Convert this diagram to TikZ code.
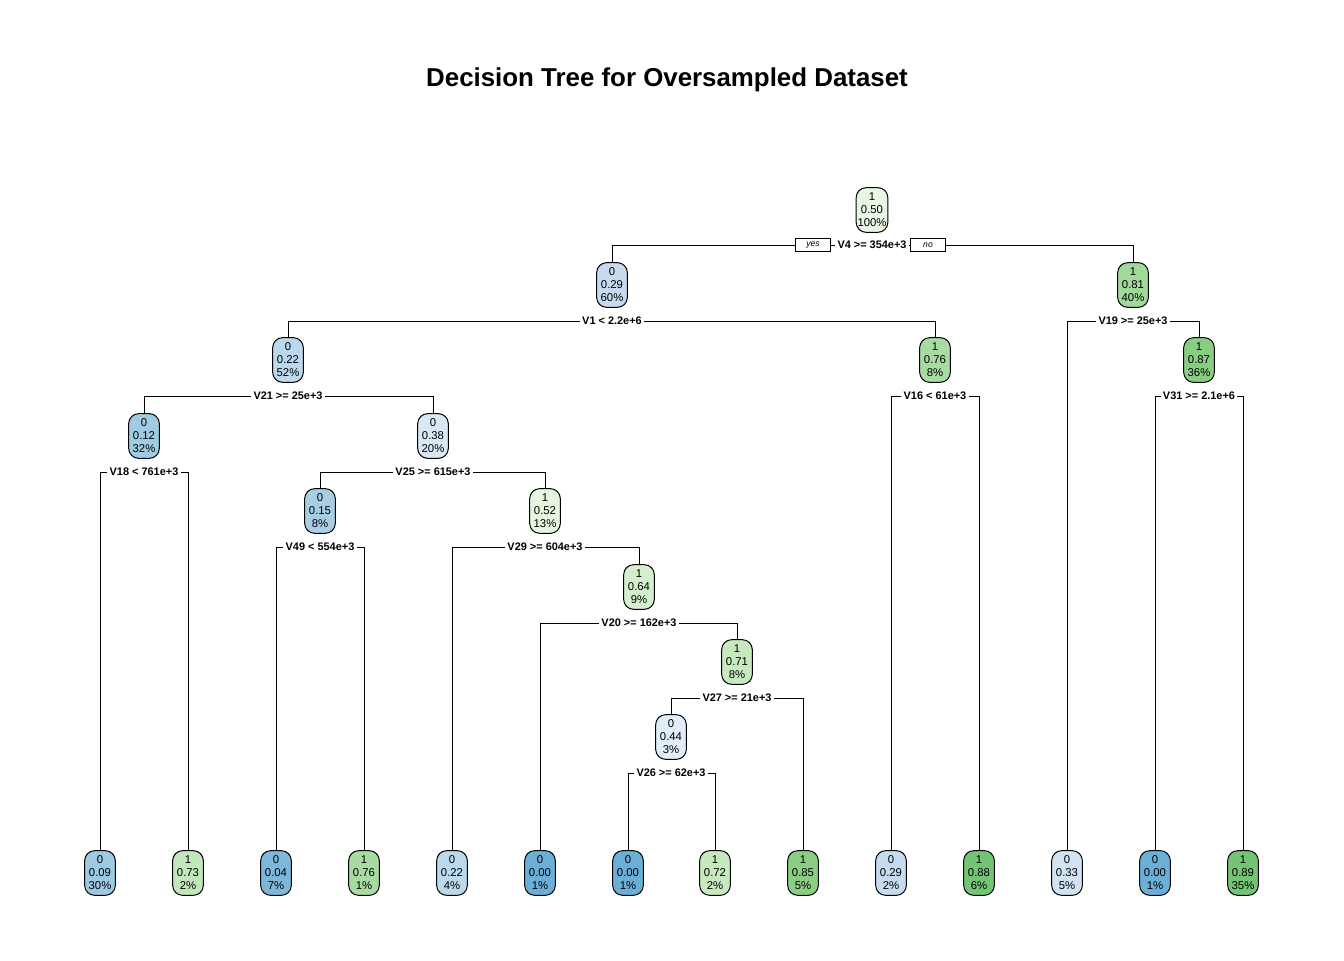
\documentclass[tikz,border=0pt]{standalone}
\usepackage{fontspec}
\setmainfont{Liberation Sans}
\begin{document}
\begin{tikzpicture}[x=0.75pt,y=-0.75pt,
  tn/.style={draw=black, line width=0.75pt, rounded corners=7.5pt, minimum width=23pt, minimum height=33.5pt, inner sep=1pt, align=center, font=\fontsize{8.5}{9.75}\selectfont},
  sl/.style={inner sep=1.5pt, font=\bfseries\fontsize{8.2}{9}\selectfont},
  yn/.style={draw=black, line width=0.6pt, minimum width=26pt, minimum height=9.8pt, inner sep=0.5pt, font=\itshape\fontsize{6.5}{7}\selectfont},
  ed/.style={line width=0.75pt, black}]
\useasboundingbox (0,0) rectangle (1344,960);
\definecolor{c000}{HTML}{6BAED6}
\definecolor{c004}{HTML}{7DB8DB}
\definecolor{c009}{HTML}{9ECAE1}
\definecolor{c012}{HTML}{A0CBE2}
\definecolor{c015}{HTML}{A8CEE4}
\definecolor{c022}{HTML}{BBD8EC}
\definecolor{c029}{HTML}{C6DBEF}
\definecolor{c033}{HTML}{D2E3F3}
\definecolor{c038}{HTML}{DAE8F5}
\definecolor{c044}{HTML}{E1EDF8}
\definecolor{c050}{HTML}{E8F6E3}
\definecolor{c052}{HTML}{E5F5E0}
\definecolor{c064}{HTML}{D3EFCC}
\definecolor{c071}{HTML}{C7E9C0}
\definecolor{c073}{HTML}{C3E7BC}
\definecolor{c076}{HTML}{A8DBA2}
\definecolor{c081}{HTML}{A1D99B}
\definecolor{c085}{HTML}{8ACE83}
\definecolor{c087}{HTML}{88CD82}
\definecolor{c088}{HTML}{74C476}

\node[font=\bfseries\fontsize{19.4}{23}\selectfont] (title) at (667,80) {Decision Tree for Oversampled Dataset};

% internal nodes
\node[tn, fill=c050] (n1) at (872,210) {1\\0.50\\100\%};
\node[tn, fill=c029] (n2) at (612,285) {0\\0.29\\60\%};
\node[tn, fill=c081] (n3) at (1133,285) {1\\0.81\\40\%};
\node[tn, fill=c022] (n4) at (288,360) {0\\0.22\\52\%};
\node[tn, fill=c076] (n5) at (935,360) {1\\0.76\\8\%};
\node[tn, fill=c087] (n7) at (1199,360) {1\\0.87\\36\%};
\node[tn, fill=c012] (n8) at (144,436) {0\\0.12\\32\%};
\node[tn, fill=c038] (n9) at (433,436) {0\\0.38\\20\%};
\node[tn, fill=c015] (n18) at (320,511) {0\\0.15\\8\%};
\node[tn, fill=c052] (n19) at (545,511) {1\\0.52\\13\%};
\node[tn, fill=c064] (n39) at (639,587) {1\\0.64\\9\%};
\node[tn, fill=c071] (n79) at (737,662) {1\\0.71\\8\%};
\node[tn, fill=c044] (n158) at (671,737) {0\\0.44\\3\%};

% leaves
\node[tn, fill=c009] (l1) at (100,873) {0\\0.09\\30\%};
\node[tn, fill=c073] (l2) at (188,873) {1\\0.73\\2\%};
\node[tn, fill=c004] (l3) at (276,873) {0\\0.04\\7\%};
\node[tn, fill=c076] (l4) at (364,873) {1\\0.76\\1\%};
\node[tn, fill=c022] (l5) at (452,873) {0\\0.22\\4\%};
\node[tn, fill=c000] (l6) at (540,873) {0\\0.00\\1\%};
\node[tn, fill=c000] (l7) at (628,873) {0\\0.00\\1\%};
\node[tn, fill=c071] (l8) at (715,873) {1\\0.72\\2\%};
\node[tn, fill=c085] (l9) at (803,873) {1\\0.85\\5\%};
\node[tn, fill=c029] (l10) at (891,873) {0\\0.29\\2\%};
\node[tn, fill=c088] (l11) at (979,873) {1\\0.88\\6\%};
\node[tn, fill=c033] (l12) at (1067,873) {0\\0.33\\5\%};
\node[tn, fill=c000] (l13) at (1155,873) {0\\0.00\\1\%};
\node[tn, fill=c088] (l14) at (1243,873) {1\\0.89\\35\%};

% split labels
\node[sl] (s1) at (872,245) {V4 >= 354e+3};
\node[yn] (yes) at (813,245) {yes};
\node[yn] (no) at (928,245) {no};
\node[sl] (s2) at (612,321) {V1 < 2.2e+6};
\node[sl] (s3) at (1133,321) {V19 >= 25e+3};
\node[sl] (s4) at (288,396) {V21 >= 25e+3};
\node[sl] (s5) at (935,396) {V16 < 61e+3};
\node[sl] (s7) at (1199,396) {V31 >= 2.1e+6};
\node[sl] (s8) at (144,472) {V18 < 761e+3};
\node[sl] (s9) at (433,472) {V25 >= 615e+3};
\node[sl] (s18) at (320,547) {V49 < 554e+3};
\node[sl] (s19) at (545,547) {V29 >= 604e+3};
\node[sl] (s39) at (639,623) {V20 >= 162e+3};
\node[sl] (s79) at (737,698) {V27 >= 21e+3};
\node[sl] (s158) at (671,773) {V26 >= 62e+3};

% connectors
\draw[ed] (s1.west) -- (yes.east);
\draw[ed] (yes.west) -| (n2.north);
\draw[ed] (s1.east) -- (no.west);
\draw[ed] (no.east) -| (n3.north);
\draw[ed] (s2.west) -| (n4.north);
\draw[ed] (s2.east) -| (n5.north);
\draw[ed] (s3.west) -| (l12.north);
\draw[ed] (s3.east) -| (n7.north);
\draw[ed] (s4.west) -| (n8.north);
\draw[ed] (s4.east) -| (n9.north);
\draw[ed] (s5.west) -| (l10.north);
\draw[ed] (s5.east) -| (l11.north);
\draw[ed] (s7.west) -| (l13.north);
\draw[ed] (s7.east) -| (l14.north);
\draw[ed] (s8.west) -| (l1.north);
\draw[ed] (s8.east) -| (l2.north);
\draw[ed] (s9.west) -| (n18.north);
\draw[ed] (s9.east) -| (n19.north);
\draw[ed] (s18.west) -| (l3.north);
\draw[ed] (s18.east) -| (l4.north);
\draw[ed] (s19.west) -| (l5.north);
\draw[ed] (s19.east) -| (n39.north);
\draw[ed] (s39.west) -| (l6.north);
\draw[ed] (s39.east) -| (n79.north);
\draw[ed] (s79.west) -| (n158.north);
\draw[ed] (s79.east) -| (l9.north);
\draw[ed] (s158.west) -| (l7.north);
\draw[ed] (s158.east) -| (l8.north);
\end{tikzpicture}
\end{document}
